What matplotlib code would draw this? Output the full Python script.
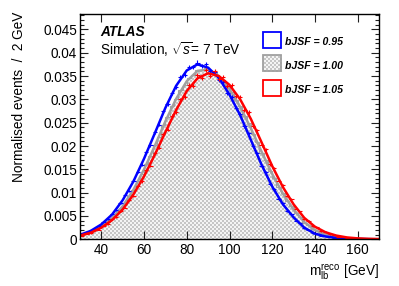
import numpy as np
import matplotlib
matplotlib.use('Agg')
import matplotlib.pyplot as plt
from matplotlib.patches import Rectangle
from matplotlib.ticker import MultipleLocator, FuncFormatter

# Data: 2 GeV bins from 30 to 170 GeV
bin_edges = np.arange(30, 172, 2)
bin_centers = np.arange(31, 170, 2)

hist_095 = [0.0012, 0.0013, 0.0019, 0.0023, 0.0028, 0.0038, 0.0043, 0.0055, 0.0063, 0.0078,
            0.0094, 0.0104, 0.0126, 0.0145, 0.0160, 0.0187, 0.0202, 0.0230, 0.0246, 0.0274,
            0.0290, 0.0314, 0.0326, 0.0348, 0.0353, 0.0370, 0.0369, 0.0379, 0.0371, 0.0376,
            0.0360, 0.0359, 0.0342, 0.0337, 0.0314, 0.0305, 0.0281, 0.0269, 0.0242, 0.0227,
            0.0199, 0.0184, 0.0157, 0.0144, 0.0119, 0.0108, 0.0087, 0.0077, 0.0061, 0.0054,
            0.0040, 0.0034, 0.0024, 0.0020, 0.0013, 0.0012, 0.0007, 0.0007, 0.00044, 0.00038,
            0.00024, 0.00022, 0.00013, 0.00013, 0.00008, 0.00008, 0.00004, 0.00004, 0.00002, 0.00002]

hist_100 = [0.0009, 0.0012, 0.0016, 0.0019, 0.0024, 0.0031, 0.0037, 0.0046, 0.0054, 0.0066,
            0.0076, 0.0092, 0.0105, 0.0124, 0.0140, 0.0161, 0.0179, 0.0202, 0.0220, 0.0244,
            0.0262, 0.0285, 0.0300, 0.0319, 0.0331, 0.0346, 0.0353, 0.0363, 0.0363, 0.0367,
            0.0361, 0.0358, 0.0348, 0.0341, 0.0326, 0.0316, 0.0298, 0.0285, 0.0264, 0.0249,
            0.0226, 0.0209, 0.0186, 0.0169, 0.0147, 0.0132, 0.0113, 0.0099, 0.0083, 0.0071,
            0.0057, 0.0048, 0.0036, 0.0030, 0.0022, 0.0018, 0.0013, 0.0010, 0.00074, 0.00056,
            0.00041, 0.00031, 0.00020, 0.00016, 0.00012, 0.00010, 0.00007, 0.00005, 0.00003, 0.00002]

hist_105 = [0.0008, 0.0012, 0.0013, 0.0019, 0.0021, 0.0029, 0.0033, 0.0043, 0.0048, 0.0061,
            0.0068, 0.0085, 0.0093, 0.0114, 0.0124, 0.0148, 0.0158, 0.0186, 0.0196, 0.0225,
            0.0235, 0.0265, 0.0272, 0.0300, 0.0305, 0.0331, 0.0329, 0.0352, 0.0345, 0.0362,
            0.0350, 0.0360, 0.0344, 0.0349, 0.0328, 0.0331, 0.0307, 0.0306, 0.0277, 0.0273,
            0.0242, 0.0234, 0.0202, 0.0193, 0.0161, 0.0153, 0.0125, 0.0116, 0.0093, 0.0086,
            0.0066, 0.0060, 0.0043, 0.0040, 0.0028, 0.0026, 0.0017, 0.0016, 0.0011, 0.0010,
            0.0006, 0.0006, 0.00037, 0.00033, 0.00022, 0.00020, 0.00014, 0.00010, 0.00007, 0.00006]

# fitted templates, sampled every 5 GeV
fit_x = np.arange(30, 171, 5)
fit_095 = [0.00096, 0.0018, 0.0032, 0.0053, 0.0084, 0.0124, 0.0173, 0.0227, 0.0282, 0.0329,
           0.0362, 0.0375, 0.0368, 0.0346, 0.0310, 0.0266, 0.0213, 0.0160, 0.0113, 0.0075,
           0.0047, 0.0025, 0.0012, 0.0006, 0.0003, 0.00015, 0.00007, 0.00003, 0.00001]
fit_100 = [0.0008, 0.0015, 0.0027, 0.0045, 0.0071, 0.0106, 0.0150, 0.0200, 0.0253, 0.0301,
           0.0339, 0.0361, 0.0364, 0.0350, 0.0322, 0.0284, 0.0238, 0.0188, 0.0140, 0.0098,
           0.0064, 0.0037, 0.0020, 0.00098, 0.00047, 0.0002, 0.0001, 0.00004, 0.00002]
fit_105 = [0.0008, 0.0014, 0.0025, 0.0041, 0.0064, 0.0096, 0.0135, 0.0181, 0.0230, 0.0277,
           0.0318, 0.0345, 0.0356, 0.0350, 0.0331, 0.0300, 0.0258, 0.0208, 0.0157, 0.0112,
           0.0075, 0.0046, 0.0027, 0.0015, 0.0008, 0.0004, 0.0002, 0.0001, 0.00005]

labels = ['bJSF = 0.95', 'bJSF = 1.00', 'bJSF = 1.05']
nevents = 200000  # for the statistical error bars

plt.rcParams['font.family'] = ['Liberation Sans', 'DejaVu Sans']
plt.rcParams['mathtext.fontset'] = 'custom'
plt.rcParams['mathtext.rm'] = 'Liberation Sans'
plt.rcParams['mathtext.it'] = 'Liberation Sans:italic'
plt.rcParams['mathtext.bf'] = 'Liberation Sans:bold'

W, H = 399, 286
fig = plt.figure(figsize=(W/100, H/100), dpi=100)
ax = fig.add_axes([80/W, (H-239.3)/H, 299/W, 225.3/H])
ax.patch.set_visible(False)

blue = '#0000ff'
red = '#ff0000'
gray = '#a0a0a0'

# checker texture for the nominal template
yy, xx = np.mgrid[0:H, 0:W]
cell = ((xx // 2 + yy // 2) % 2).astype(float)
shade = np.where(cell == 1, 0.78, 0.96)
tex = np.dstack([shade, shade, shade])

gray_patch = ax.stairs(hist_100, bin_edges, fill=True, facecolor='none', edgecolor='none')
im = fig.figimage(tex, 0, 0, zorder=-1)
im.set_clip_path(gray_patch)
ax.stairs(hist_100, bin_edges, color=gray, lw=0.8)
ax.plot(fit_x, fit_100, color=gray, lw=1.8)

for hist, fit, col in [(hist_095, fit_095, blue), (hist_105, fit_105, red)]:
    h = np.array(hist)
    ax.errorbar(bin_centers, h, xerr=1, yerr=np.sqrt(h / nevents), fmt='none',
                ecolor=col, elinewidth=0.8, capsize=0)
    ax.plot(fit_x, fit, color=col, lw=1.8)

ax.set_xlim(30, 170)
ax.set_ylim(0, 0.0483)
ax.xaxis.set_major_locator(MultipleLocator(20))
ax.yaxis.set_major_locator(MultipleLocator(0.005))
ax.yaxis.set_minor_locator(MultipleLocator(0.001))
ax.yaxis.set_major_formatter(FuncFormatter(lambda v, p: f'{v:g}'))
ax.tick_params(which='both', direction='in', top=True, right=True, labelsize=9.8, color='#202020')
ax.tick_params(which='major', length=5.8, width=0.8)
ax.tick_params(which='minor', length=2.9, width=0.8)
ax.tick_params(axis='x', pad=3)
ax.tick_params(axis='y', pad=2)
for s in ax.spines.values():
    s.set_linewidth(1.0)

ax.text(0.067, 0.920, 'ATLAS', transform=ax.transAxes, fontsize=9.8,
        fontweight='bold', fontstyle='italic', va='center')
ax.text(0.067, 0.840, r'Simulation, $\sqrt{s}$= 7 TeV', transform=ax.transAxes,
        fontsize=9.8, va='center')

# legend
box_y = [0.849, 0.745, 0.636]
txt_y = [0.876, 0.769, 0.663]
edge_cols = [blue, gray, red]
for i in range(3):
    r = Rectangle((0.611, box_y[i]), 0.060, 0.071, transform=ax.transAxes,
                  facecolor='white' if i != 1 else 'none', edgecolor=edge_cols[i],
                  lw=1.3, clip_on=False, zorder=5)
    ax.add_patch(r)
    if i == 1:
        im2 = fig.figimage(tex, 0, 0, zorder=-1)
        im2.set_clip_path(r)
    ax.text(0.686, txt_y[i], labels[i], transform=ax.transAxes, fontsize=7.6,
            fontweight='bold', fontstyle='italic', va='center')

fig.text(379/W, (H-272)/H, r'm$_{\mathrm{lb}}^{\mathrm{reco}}$ [GeV]', ha='right',
         va='center', fontsize=9.8)
fig.text(19/W, (H-12)/H, 'Normalised events  /  2 GeV', rotation=90, ha='center',
         va='top', fontsize=9.8)

fig.savefig('out.png', dpi=100)
